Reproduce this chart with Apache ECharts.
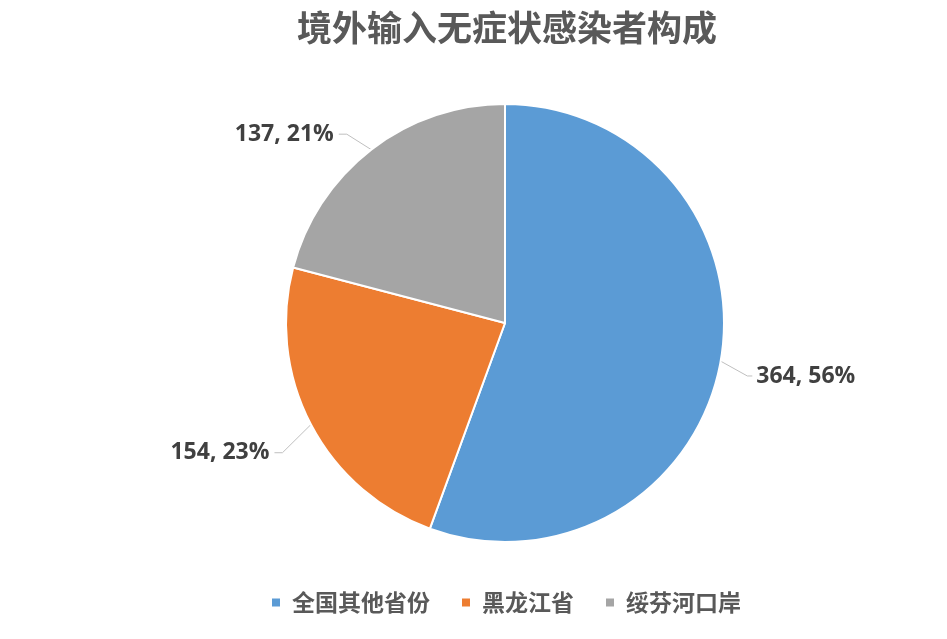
<!DOCTYPE html>
<html><head><meta charset="utf-8">
<script src="https://cdn.jsdelivr.net/npm/echarts@6/dist/echarts.min.js"></script>
<style>html,body{margin:0;padding:0;background:#fff}#c{width:947px;height:639px}</style>
</head><body><div id="c"></div>
<script>
var titleText = '境外输入无症状感染者构成';
var categories = ['全国其他省份', '黑龙江省', '绥芬河口岸'];
var values = [364, 154, 137];
var colors = ['#5B9BD5', '#ED7D31', '#A5A5A5'];

var chart = echarts.init(document.getElementById('c'));
var font = '"Microsoft YaHei","Noto Sans CJK SC",sans-serif';
var labelShift = [[0, 11], [-8, 18], [-10, 2]];
chart.setOption({
  animation: false,
  title: {
    text: titleText, left: 292, top: 5,
    textStyle: { fontSize: 35, fontWeight: 'bold', color: '#595959', fontFamily: font }
  },
  legend: {
    top: 586, left: 265, itemWidth: 10, itemHeight: 10, itemGap: 30, icon: 'rect',
    textStyle: { fontSize: 23, fontWeight: 'bold', color: '#595959', fontFamily: font, padding: [0, 0, 0, 6] },
    data: categories
  },
  series: [{
    type: 'pie', center: [505, 323], radius: 219, startAngle: 90, clockwise: true,
    percentPrecision: 0,
    itemStyle: { borderColor: '#fff', borderWidth: 2 },
    label: {
      formatter: '{c}, {d}%', fontSize: 23, fontWeight: 'bold', color: '#404040',
      fontFamily: '"Open Sans","DejaVu Sans",sans-serif', distanceToLabelLine: 6
    },
    labelLine: { length: 22, length2: 8, lineStyle: { color: '#BFBFBF', width: 1 } },
    labelLayout: function (p) {
      var s = labelShift[p.dataIndex];
      var r = p.labelRect;
      var pts = p.labelLinePoints;
      var out = { dx: s[0], dy: s[1] };
      if (pts && pts.length) {
        var start = pts[0];
        var cy = r.y + s[1] + r.height / 2;
        var rightSide = (r.x + r.width / 2) > start[0];
        var end, mid;
        if (rightSide) {
          end = [r.x + s[0] - 4, cy];
          mid = [end[0] - 5, cy];
        } else {
          end = [r.x + s[0] + r.width + 5, cy];
          mid = [end[0] + 8, cy];
        }
        out.labelLinePoints = [start, mid, end];
      }
      return out;
    },
    data: categories.map(function (n, i) {
      return { name: n, value: values[i], itemStyle: { color: colors[i] } };
    })
  }]
});
</script></body></html>
